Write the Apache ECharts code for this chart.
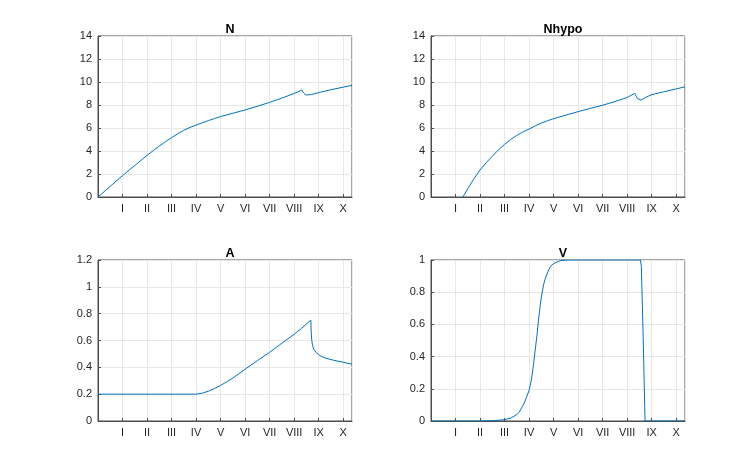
<!DOCTYPE html>
<html>
<head>
<meta charset="utf-8">
<script src="https://cdn.jsdelivr.net/npm/echarts@6/dist/echarts.min.js"></script>
<style>
html,body{margin:0;padding:0;background:#fff;}
#main{width:756px;height:473px;}
</style>
</head>
<body>
<div id="main"></div>
<script>
// month tick labels
var monthLabels = ['', 'I', 'II', 'III', 'IV', 'V', 'VI', 'VII', 'VIII', 'IX', 'X'];
var xEnd = 10.36;

// N
var nX = [0, 0.5, 1, 1.5, 2, 2.25, 2.5, 2.75, 3, 3.25, 3.5, 3.75, 4, 4.25, 4.5, 4.75, 5, 5.5, 6, 6.5, 7, 7.5, 8, 8.32, 8.36, 8.41, 8.47, 8.55, 8.7, 9, 9.5, 10, 10.36];
var nY = [0, 0.93, 1.86, 2.74, 3.62, 4.03, 4.43, 4.81, 5.16, 5.5, 5.8, 6.05, 6.25, 6.45, 6.64, 6.82, 7.0, 7.28, 7.57, 7.89, 8.23, 8.6, 9.0, 9.3, 9.12, 8.95, 8.87, 8.84, 8.9, 9.08, 9.33, 9.55, 9.71];

// Nhypo
var hX = [1.3, 1.5, 1.75, 2, 2.25, 2.5, 2.75, 3, 3.25, 3.5, 3.75, 4, 4.25, 4.5, 4.75, 5, 5.5, 6, 6.5, 7, 7.5, 8, 8.31, 8.36, 8.43, 8.5, 8.57, 8.65, 8.75, 9, 9.5, 10, 10.36];
var hY = [0, 0.72, 1.58, 2.35, 2.98, 3.54, 4.1, 4.58, 5.0, 5.36, 5.66, 5.91, 6.18, 6.43, 6.63, 6.81, 7.12, 7.42, 7.71, 7.98, 8.3, 8.65, 9.02, 8.78, 8.55, 8.46, 8.43, 8.52, 8.66, 8.9, 9.15, 9.4, 9.58];

// A
var aX = [0, 4, 4.25, 4.5, 4.75, 5, 5.25, 5.5, 5.75, 6, 6.5, 7, 7.5, 8, 8.3, 8.68, 8.69, 8.7, 8.72, 8.75, 8.8, 8.9, 9, 9.1, 9.3, 9.5, 9.75, 10, 10.36];
var aY = [0.2, 0.2, 0.207, 0.222, 0.242, 0.265, 0.292, 0.32, 0.352, 0.386, 0.45, 0.512, 0.58, 0.646, 0.69, 0.752, 0.70, 0.65, 0.6, 0.565, 0.535, 0.51, 0.495, 0.482, 0.468, 0.458, 0.447, 0.438, 0.423];

// V
var vX = [0, 2, 2.5, 3, 3.25, 3.5, 3.6, 3.8, 4, 4.1, 4.18, 4.25, 4.32, 4.38, 4.45, 4.5, 4.59, 4.65, 4.8, 4.9, 5, 5.27, 5.6, 8.54, 8.56, 8.58, 8.65, 8.73, 10.36];
var vY = [0, 0, 0.002, 0.008, 0.018, 0.04, 0.055, 0.11, 0.19, 0.26, 0.35, 0.44, 0.53, 0.62, 0.71, 0.77, 0.845, 0.88, 0.94, 0.965, 0.978, 0.996, 1, 1, 0.99, 0.96, 0.55, 0, 0];

var titles = ['N', 'Nhypo', 'A', 'V'];
var yMax = [14, 14, 1.2, 1];
var yStep = [2, 2, 0.2, 0.2];

var txtColor = '#262626';
var font = 'Liberation Sans, Arial, Helvetica, sans-serif';

function pairs(xs, ys) {
	var out = [];
	for (var i = 0; i < xs.length; i++) out.push([xs[i], ys[i]]);
	return out;
}

var boxes = [
	{left: 98, top: 36},
	{left: 431, top: 36},
	{left: 98, top: 260},
	{left: 431, top: 260}
];
var seriesData = [pairs(nX, nY), pairs(hX, hY), pairs(aX, aY), pairs(vX, vY)];

var grids = [], xAxes = [], yAxes = [], series = [], titleOpts = [];
for (var k = 0; k < 4; k++) {
	grids.push({
		left: boxes[k].left, top: boxes[k].top, width: 254, height: 161,
		show: true, borderColor: '#4d4d4d', borderWidth: 1, backgroundColor: '#fff'
	});
	xAxes.push({
		type: 'value', gridIndex: k, min: 0, max: xEnd, interval: 1,
		axisLine: {show: true, lineStyle: {color: '#4d4d4d', width: 1}},
		axisTick: {show: true, inside: true, length: 3, lineStyle: {color: '#4d4d4d'}},
		axisLabel: {
			color: txtColor, fontFamily: font, fontSize: 11, margin: 6,
			showMaxLabel: false, showMinLabel: false,
			formatter: function (v) {
				var r = Math.round(v);
				if (Math.abs(v - r) > 1e-6) return '';
				return monthLabels[r] || '';
			}
		},
		splitLine: {show: true, lineStyle: {color: '#e8e8e8', width: 1}}
	});
	yAxes.push({
		type: 'value', gridIndex: k, min: 0, max: yMax[k], interval: yStep[k],
		axisLine: {show: true, lineStyle: {color: '#4d4d4d', width: 1}},
		axisTick: {show: true, inside: true, length: 3, lineStyle: {color: '#4d4d4d'}},
		axisLabel: {color: txtColor, fontFamily: font, fontSize: 11, margin: 6},
		splitLine: {show: true, lineStyle: {color: '#e8e8e8', width: 1}}
	});
	series.push({
		type: 'line', xAxisIndex: k, yAxisIndex: k, data: seriesData[k],
		showSymbol: false, smooth: false, animation: false,
		lineStyle: {color: '#0072BD', width: 1}, itemStyle: {color: '#0072BD'}
	});
	titleOpts.push({
		text: titles[k], left: boxes[k].left + 127, top: boxes[k].top - 18, textAlign: 'center',
		textStyle: {fontFamily: font, fontSize: 12.5, fontWeight: 'bold', color: '#000'}
	});
}

var myChart = echarts.init(document.getElementById('main'));
myChart.setOption({
	backgroundColor: '#fff',
	animation: false,
	title: titleOpts,
	grid: grids,
	xAxis: xAxes,
	yAxis: yAxes,
	series: series
});
</script>
</body>
</html>
